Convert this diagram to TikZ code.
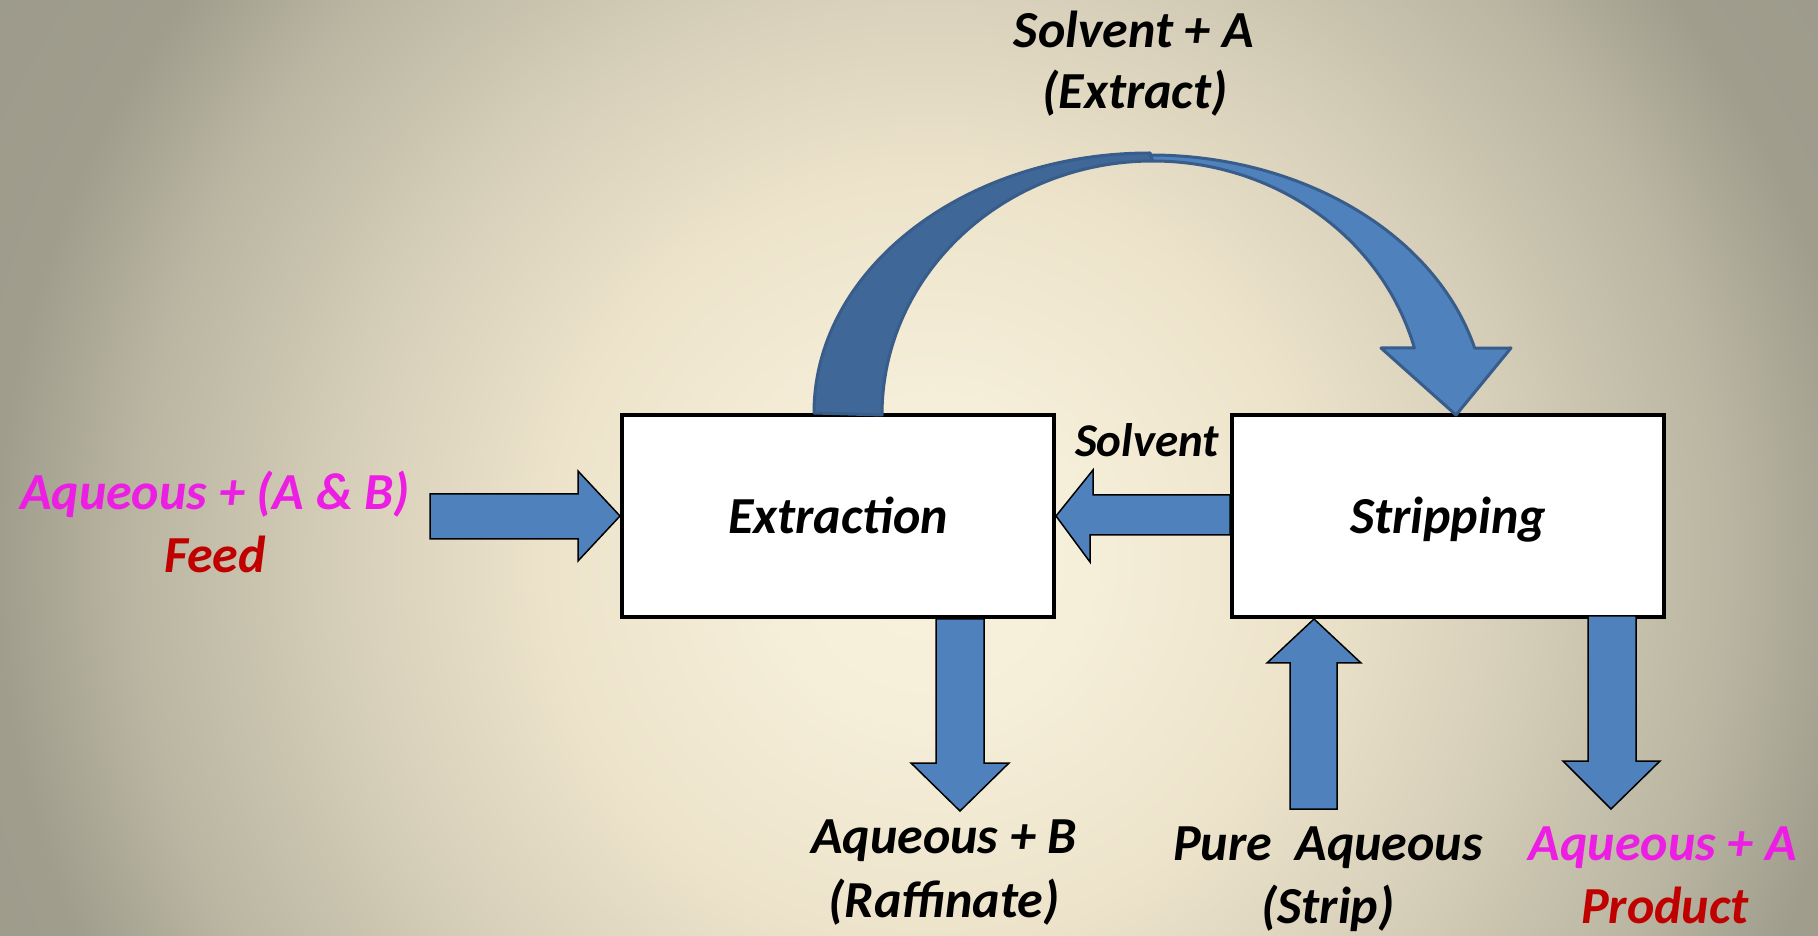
\documentclass[tikz,border=0pt]{standalone}
\usepackage{fontspec}
\setmainfont{Carlito}
\usetikzlibrary{calc}
\definecolor{bgA}{HTML}{F8F1DC}
\definecolor{bgB}{HTML}{F5EED8}
\definecolor{bgC}{HTML}{EDE3CB}
\definecolor{bgD}{HTML}{D9D1BB}
\definecolor{bgE}{HTML}{BAB6A2}
\definecolor{bgF}{HTML}{A09D8D}
\definecolor{bgG}{HTML}{9A988A}
\definecolor{arrowblue}{HTML}{4F81BD}
\definecolor{darkblue}{HTML}{3F6797}
\definecolor{edgeblue}{HTML}{385D8A}
\definecolor{magentatxt}{RGB}{236,30,228}
\definecolor{redtxt}{RGB}{192,0,0}
\pgfdeclareradialshading{bgshade}{\pgfpoint{0bp}{0bp}}{color(0bp)=(bgA); color(160bp)=(bgB); color(380bp)=(bgC); color(560bp)=(bgD); color(790bp)=(bgE); color(930bp)=(bgF); color(1240bp)=(bgG)}
\newcommand\txtfont{\fontsize{52}{60}\selectfont\bfseries\itshape}
\newcommand\smallfont{\fontsize{47}{54}\selectfont\bfseries\itshape}
\tikzset{
  box/.style={draw=black, line width=4pt, fill=white, minimum width=432pt, minimum height=202pt, inner sep=0pt, text height=36pt, text depth=0pt, font=\txtfont},
  blk/.style={fill=arrowblue, draw=black, line width=1.5pt, line join=miter},
  curvd/.style={draw=edgeblue, line width=3pt, line join=round},
  lbl/.style={font=\txtfont, anchor=base, inner sep=0pt},
}
\begin{document}
\begin{tikzpicture}[x=1pt,y=1pt]
\useasboundingbox (0,0) rectangle (1818,935);
\begin{scope}
\clip (0,0) rectangle (1818,935);
\node[inner sep=0pt, outer sep=0pt] (bg) at (930,375) {\pgfuseshading{bgshade}};
\end{scope}

% boxes
\node[box] (ext) at (838,419) {Extraction};
\node[box] (str) at (1448,419) {Stripping};

% feed arrow
\draw[blk] (ext.west) -- ++(-42,45) -- ++(0,-23) -- ++(-148,0) -- ++(0,-45) -- ++(148,0) -- ++(0,-22) -- cycle;
% solvent recycle arrow
\draw[blk] (ext.east) -- ++(37,46) -- ++(0,-25) -- (str.west |- 0,440) -- (str.west |- 0,400) -- ++(-140,0) -- ++(0,-27) -- cycle;
% raffinate arrow
\draw[blk] ($(ext.south)+(98,0)$) -- ++(0,-144) -- ++(-25,0) -- ++(49,-48) -- ++(49,48) -- ++(-25,0) -- ++(0,144) -- cycle;
% strip arrow
\draw[blk] ($(str.south)+(-134,0)$) -- ++(47,-44) -- ++(-24,0) -- ++(0,-146) -- ++(-47,0) -- ++(0,146) -- ++(-23,0) -- cycle;
% product arrow
\draw[blk] ($(str.south)+(140,3)$) -- ++(0,-145) -- ++(-25,0) -- ++(48,-48) -- ++(49,48) -- ++(-24,0) -- ++(0,145) -- cycle;

% curved extract arrow
\coordinate (cstart) at ($(ext.north)+(-24,0)$);
\draw[curvd, fill=darkblue] (cstart) arc[start angle=180, end angle=90, x radius=336, y radius=260]
  -- (1153,774) arc[start angle=90, end angle=180, x radius=271, y radius=254] -- cycle;
\draw[curvd, fill=arrowblue] (1150,780) arc[start angle=90, end angle=14.9, x radius=336, y radius=260]
  -- (1511,587) -- (1456,520) -- (1381,587) -- (1414.4,587)
  arc[start angle=15.3, end angle=90, x radius=271, y radius=254] -- cycle;

% labels
\node[lbl] (extract1) at (1134,887) {Solvent + A};
\node[lbl] (extract2) at (1135,826) {(Extract)};
\node[lbl, font=\smallfont] (solv) at (1147,478) {Solvent};
\node[lbl, text=magentatxt] (feed1) at (215,425) {Aqueous + (A \& B)};
\node[lbl, text=redtxt] (feed2) at (215,362) {Feed};
\node[lbl] (raf1) at (944,82) {Aqueous + B};
\node[lbl] (raf2) at (944,18) {(Raffinate)};
\node[lbl] (strip1) at (1328,75) {Pure\ \ Aqueous};
\node[lbl] (strip2) at (1328,12) {(Strip)};
\node[lbl, text=magentatxt] (prod1) at (1663,75) {Aqueous + A};
\node[lbl, text=redtxt] (prod2) at (1665,12) {Product};
\end{tikzpicture}
\end{document}
